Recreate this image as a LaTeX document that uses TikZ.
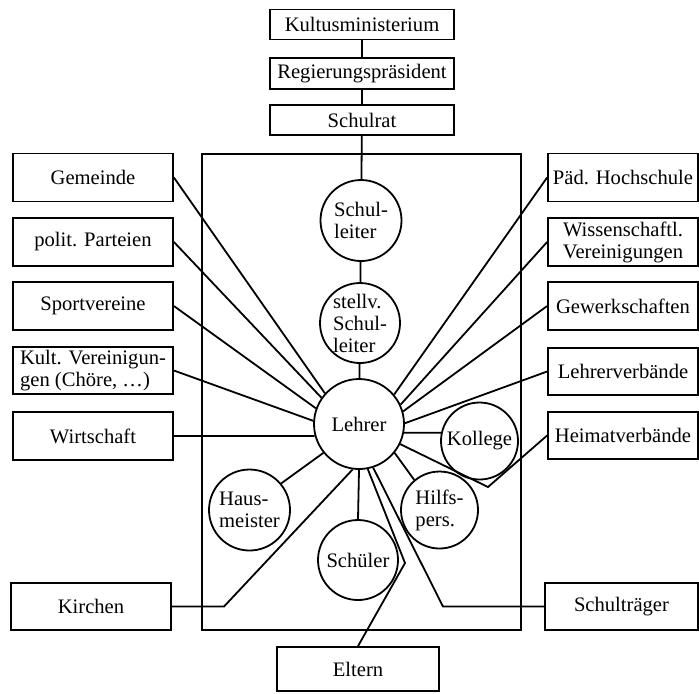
\documentclass[tikz,border=0pt]{standalone}
\usepackage{fontspec}
\setmainfont{Liberation Serif}
\begin{document}
\begin{tikzpicture}[x=0.5pt,y=-0.5pt,
  every node/.style={font=\fontsize{10.3}{11}\selectfont},
  box/.style={draw, line width=0.9pt, inner sep=0pt, align=center},
  lbox/.style={box, minimum width=80pt, minimum height=24pt},
  rbox/.style={box, minimum width=75pt, minimum height=24pt},
  topbox/.style={box, minimum width=92pt, minimum height=15pt},
  ring/.style={draw, circle, line width=0.9pt, inner sep=-3pt, align=left},
  link/.style={line width=0.9pt, line join=miter}]
\useasboundingbox (0,0) rectangle (699,693);

% chain of school administration
\node[topbox] (kultus)   at (362,24.5) {Kultusministerium};
\node[topbox, minimum height=15.5pt] (regierung) at (362,73.5) {Regierungspräsident};
\node[topbox] (schulrat) at (362,120) {Schulrat};

% the school itself
\node[draw, line width=0.9pt, minimum width=159.5pt, minimum height=238pt, inner sep=0pt] (schule) at (361.5,392) {};

\node[ring, minimum size=40.5pt] (leiter)  at (361,220.5) {Schul-\\leiter};
\node[ring, minimum size=40pt]   (stellv)  at (360,323)   {stellv.\\Schul-\\leiter};
\node[ring, minimum size=45pt]   (lehrer)  at (359,424)   {Lehrer};
\node[ring, minimum size=38.5pt] (kollege) at (479.5,441) {Kollege};
\node[ring, minimum size=38.5pt] (hilfs)   at (439.5,510) {Hilfs-\\pers.};
\node[ring, minimum size=40.5pt] (haus)    at (249.5,510) {Haus-\\meister};
\node[ring, minimum size=40pt]   (schueler) at (358,560)  {Schüler};

% partners on the left
\node[lbox] (gemeinde)   at (93,177.5) {Gemeinde};
\node[lbox] (parteien)   at (93,242)   {polit. Parteien};
\node[lbox] (sport)      at (93,306)   {Sportvereine};
\node[lbox, align=left, minimum height=23.5pt] (kultur) at (93,370.5) {Kult. Vereinigun-\\gen (Chöre, \dots)};
\node[lbox] (wirtschaft) at (93,436)   {Wirtschaft};
\node[lbox, minimum height=23.5pt] (kirchen) at (91,606.5) {Kirchen};

% partners on the right
\node[rbox] (paed)      at (623,177.5) {Päd. Hochschule};
\node[rbox] (wiss)      at (623,242)   {Wissenschaftl.\\Vereinigungen};
\node[rbox] (gewerk)    at (623,306)   {Gewerkschaften};
\node[rbox, minimum height=23.5pt] (lverb) at (623,371.5) {Lehrerverbände};
\node[rbox, minimum height=23.5pt] (heimat) at (623,435.5) {Heimatverbände};
\node[rbox, minimum width=76.5pt, minimum height=23.5pt] (traeger) at (621.5,606.5) {Schulträger};

\node[box, minimum width=81pt, minimum height=22pt] (eltern) at (358,669) {Eltern};

% bends of the lower connectors
\coordinate (kHeimat)  at (488,487);
\coordinate (kTraeger) at (443,606.5);
\coordinate (kEltern)  at (405,563);
\coordinate (kKirchen) at (224,606.5);

% hierarchy
\draw[link] (kultus) -- (regierung);
\draw[link] (regierung) -- (schulrat);
\draw[link] (schulrat) -- (leiter);
\draw[link] (leiter) -- (stellv);
\draw[link] (stellv) -- (lehrer);

% left side
\draw[link] (gemeinde.east)   -- (lehrer.138);
\draw[link] (parteien.east)   -- (lehrer.145);
\draw[link] (sport.east)      -- (lehrer.160);
\draw[link] (kultur.east)     -- (lehrer.176);
\draw[link] (wirtschaft.east) -- (lehrer.195);

% right side
\draw[link] (paed.west)   -- (lehrer.40);
\draw[link] (wiss.west)   -- (lehrer.25);
\draw[link] (gewerk.west) -- (lehrer.16);
\draw[link] (lverb.west)  -- (lehrer.1);
\draw[link] (lehrer.-11.5) -- (kollege.168);
\draw[link] (lehrer.-26) -- (kHeimat) -- (heimat.west);
\draw[link] (lehrer.-39) -- (hilfs.130);

% lower part
\draw[link] (lehrer.-72) -- (kTraeger) -- (traeger.west);
\draw[link] (lehrer.-79.5) -- (kEltern) -- (eltern.north);
\draw[link] (lehrer.south) -- (schueler.north);
\draw[link] (lehrer.262) -- (kKirchen) -- (kirchen.east);
\draw[link] (lehrer.219) -- (haus.40);
\end{tikzpicture}
\end{document}
